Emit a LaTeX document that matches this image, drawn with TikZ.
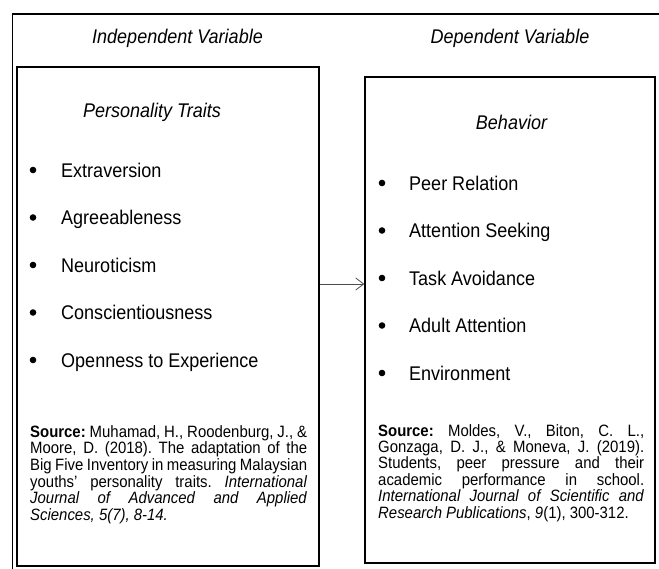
\documentclass[tikz,border=0pt]{standalone}
\usepackage{fontspec}
\setmainfont{Liberation Sans}[FakeStretch=0.91]
\usetikzlibrary{arrows.meta}
\frenchspacing

\tikzset{
  box/.style={draw, line width=1.2pt, inner sep=0pt},
  head/.style={font=\fontsize{19.8}{23}\selectfont\itshape, anchor=base, inner sep=0pt},
  entry/.style={font=\fontsize{19.8}{23}\selectfont, anchor=base west, inner sep=0pt},
  src/.style={font=\fontsize{16.4}{18}\selectfont, anchor=base west, inner sep=0pt},
}

\begin{document}
\begin{tikzpicture}[x=1pt, y=-1pt]
    \useasboundingbox (0,0) rectangle (659,568);

    % outer frame, cut off at the right and bottom
    \draw[line width=1.5pt] (12.5,580) -- (12.5,14) -- (670,14);

    \node[head] (indep) at (177.5,43) {Independent Variable};
    \node[head] (dep) at (510,43) {Dependent Variable};

    % the two boxes
    \node[box, minimum width=302pt, minimum height=499pt] (trait) at (168,316.5) {};
    \node[box, minimum width=290pt, minimum height=486pt] (behav) at (510,320) {};

    \node[head] (traitname) at (152,117.5) {Personality Traits};
    \node[head] (behavname) at (511.5,129.5) {Behavior};

    % Personality traits
    \foreach \tr [count=\i from 0] in {Extraversion, Agreeableness, Neuroticism, Conscientiousness, Openness to Experience} {
        \node[entry] (tr\i) at (61,177+47.5*\i) {\tr};
        \fill (33,170+47.5*\i) circle (3.3);
    }

    % Behavior
    \foreach \bh [count=\i from 0] in {Peer Relation, Attention Seeking, Task Avoidance, Adult Attention, Environment} {
        \node[entry] (bh\i) at (409,190+47.5*\i) {\bh};
        \fill (382,183+47.5*\i) circle (3.3);
    }

    % sources
    \foreach \ln [count=\i from 0] in {
        {\textbf{Source:} Muhamad, H., Roodenburg, J., \&},
        {Moore, D. (2018). The adaptation of the},
        {Big Five Inventory in measuring Malaysian},
        {youths’ personality traits. \textit{International}},
        {\textit{Journal of Advanced and Applied}},
        {\textit{Sciences, 5(7), 8-14.}\hfill}}
        \node[src] (ls\i) at (30,437+16.7*\i) {\hbox to 277pt{\ln}};

    \foreach \ln [count=\i from 0] in {
        {\textbf{Source:} Moldes, V., Biton, C. L.,},
        {Gonzaga, D. J., \& Moneva, J. (2019).},
        {Students, peer pressure and their},
        {academic performance in school.},
        {\textit{International Journal of Scientific and}},
        {\textit{Research Publications}, \textit{9}(1), 300-312.\hfill}}
        \node[src] (rs\i) at (378,436+16.4*\i) {\hbox to 266pt{\ln}};

    % link between the variables
    \coordinate (link) at (0,284);
    \draw[gray!60!black, line width=0.8pt, -{Straight Barb[length=8pt,width=12pt]}] (trait.east |- link) -- (behav.west |- link);
\end{tikzpicture}
\end{document}
